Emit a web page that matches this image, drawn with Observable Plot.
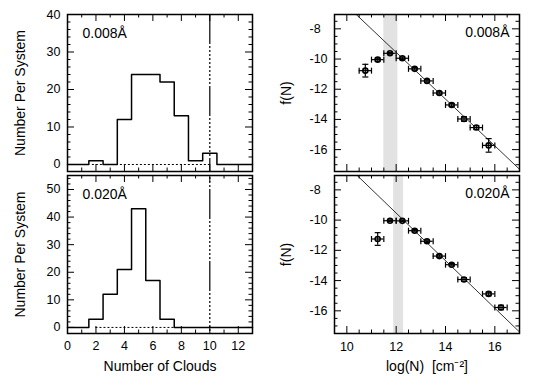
<!DOCTYPE html>
<html><head><meta charset="utf-8">
<script src="https://cdn.jsdelivr.net/npm/d3@7"></script>
<script src="https://cdn.jsdelivr.net/npm/@observablehq/plot@0.6"></script>
<style>
body{margin:0;background:#fff;}
#chart{position:relative;width:534px;height:385px;overflow:hidden;background:#fff;}
#chart svg{position:absolute;left:0;top:0;}
</style></head><body><div id="chart"></div>
<script>
// ---------- data ----------
const histEdges008 = [0, 1.5, 2.5, 3.5, 4.5, 5.5, 6.5, 7.5, 8.5, 9.5, 10.5, 13];
const histCounts008 = [0, 1, 0, 12, 24, 24, 22, 13, 1, 3, 0];
const histEdges020 = [0, 1.5, 2.5, 3.5, 4.5, 5.5, 6.5, 7.5, 13];
const histCounts020 = [0, 3, 12, 21, 43, 17, 3, 0];
const zeroDotted008 = [1.75, 10];
const zeroDotted020 = [2, 7.5];
const cloudCut = [10];

const logN008 = [10.75, 11.25, 11.75, 12.25, 12.75, 13.25, 13.75, 14.25, 14.75, 15.25, 15.75];
const fN008 = [-10.77, -10.04, -9.62, -9.95, -10.65, -11.45, -12.25, -13.04, -13.97, -14.54, -15.72];
const fNerr008 = [0.42, 0.1, 0.06, 0.08, 0.08, 0.08, 0.08, 0.1, 0.15, 0.13, 0.45];
const logN020 = [11.25, 11.75, 12.25, 12.75, 13.25, 13.75, 14.25, 14.75, 15.75, 16.25];
const fN020 = [-11.25, -10.04, -10.05, -10.7, -11.4, -12.38, -12.95, -13.93, -14.88, -15.78];
const fNerr020 = [0.42, 0.05, 0.05, 0.08, 0.08, 0.08, 0.08, 0.12, 0.12, 0.15];
const logNHalfWidth = 0.25;
const band008 = [11.5, 12.07];
const band020 = [11.9, 12.3];
const fitLogN008 = [10.38, 17], fitF008 = [-7.05, -17.3];
const fitLogN020 = [10.42, 17], fitF020 = [-7.05, -17.4];

const labels = {
  histY: "Number Per System", histX: "Number of Clouds",
  fY: "f(N)", fX: "log(N)  [cm\u207B\u00B2]",
  a1: "0.008\u00C5", a2: "0.020\u00C5"
};
const histXTicks = [0, 2, 4, 6, 8, 10, 12], histXMinor = [1, 3, 5, 7, 9, 11];
const histYTicks008 = [0, 10, 20, 30, 40];
const histYTicks020 = [0, 10, 20, 30, 40, 50];
const fXTicks = [10, 12, 14, 16];
const fYTicks = [-16, -14, -12, -10, -8];

// ---------- layout ----------
const W = 534, H = 385;
const FONT = "'Liberation Sans', Arial, Helvetica, sans-serif";
const LX = [67, 252], RX = [334, 519], TY = [14, 171], BY = [175, 333];
const chart = document.getElementById("chart");

const vbar = {draw(ctx, size) { const r = Math.sqrt(size / Math.PI); ctx.moveTo(0, -r); ctx.lineTo(0, r); }};
const hbar = {draw(ctx, size) { const r = Math.sqrt(size / Math.PI); ctx.moveTo(-r, 0); ctx.lineTo(r, 0); }};

function tickSet(xMaj, xMin, yMaj, yMin, fw, fh) {
  const M = 7, m = 3.5, o = {stroke: "black", strokeWidth: 1};
  return [
    Plot.tickX(xMaj, {x: d => d, insetTop: fh - M, ...o}),
    Plot.tickX(xMaj, {x: d => d, insetBottom: fh - M, ...o}),
    Plot.tickX(xMin, {x: d => d, insetTop: fh - m, ...o}),
    Plot.tickX(xMin, {x: d => d, insetBottom: fh - m, ...o}),
    Plot.tickY(yMaj, {y: d => d, insetRight: fw - M, ...o}),
    Plot.tickY(yMaj, {y: d => d, insetLeft: fw - M, ...o}),
    Plot.tickY(yMin, {y: d => d, insetRight: fw - m, ...o}),
    Plot.tickY(yMin, {y: d => d, insetLeft: fw - m, ...o})
  ];
}

function panel(xr, yr, xDomain, yDomain, marks) {
  const svg = Plot.plot({
    width: W, height: H,
    marginLeft: xr[0], marginRight: W - xr[1], marginTop: yr[0], marginBottom: H - yr[1],
    x: {domain: xDomain, axis: null},
    y: {domain: yDomain, axis: null},
    style: {background: "transparent", fontFamily: FONT, fontSize: "12.5px", color: "black", overflow: "visible"},
    marks
  });
  chart.appendChild(svg);
}

function histPanel(yr, edges, counts, yDomain, yTicks, dotted, annot, showX, dashOffset) {
  const steps = edges.map((e, i) => ({x: e, y: counts[Math.min(i, counts.length - 1)]}));
  const yMin = d3.range(2, yDomain[1], 2).filter(v => v % 10 !== 0);
  const fw = LX[1] - LX[0], fh = yr[1] - yr[0];
  const marks = [
    Plot.ruleY([0], {x1: dotted[0], x2: dotted[1], stroke: "black", strokeWidth: 1, strokeDasharray: "2,2"}),
    Plot.line(steps, {x: "x", y: "y", curve: "step-after", stroke: "black", strokeWidth: 1.5}),
    Plot.ruleX(cloudCut, {stroke: "black", strokeWidth: 1.2,
      strokeDasharray: "30,2,2,2,2,2,2,2,2,2,2,2,2,2,2,2,2,2,2,2,2,2", strokeDashoffset: dashOffset}),
    ...tickSet(histXTicks, histXMinor, yTicks, yMin, fw, fh),
    Plot.frame({stroke: "black", strokeWidth: 1.5}),
    Plot.text(yTicks, {y: d => d, text: d => String(d), frameAnchor: "left", textAnchor: "end", dx: -7, lineAnchor: "middle"}),
    Plot.text([labels.histY], {text: d => d, frameAnchor: "left", textAnchor: "middle", dx: -47, rotate: -90, fontSize: 14, lineAnchor: "middle"}),
    Plot.text([annot], {text: d => d, frameAnchor: "top-left", textAnchor: "start", dx: 15, dy: 19, fontSize: 14, lineAnchor: "middle"})
  ];
  if (showX) {
    marks.push(Plot.text(histXTicks, {x: d => d, text: d => String(d), frameAnchor: "bottom", dy: 12, lineAnchor: "middle"}));
    marks.push(Plot.text([labels.histX], {text: d => d, frameAnchor: "bottom", textAnchor: "middle", dy: 33, fontSize: 14, lineAnchor: "middle"}));
  }
  panel(LX, yr, [0, 13], yDomain, marks);
}

function fPanel(yr, xs, fs, es, band, fitX, fitY, yDomain, annot, annotDy, showX) {
  const pts = xs.map((x, i) => ({x, f: fs[i], e: es[i]}));
  const fit = fitX.map((x, i) => ({x, y: fitY[i]}));
  const fw = RX[1] - RX[0], fh = yr[1] - yr[0];
  const xMin = d3.range(10.5, 17, 0.5).filter(v => v % 2 !== 0);
  const yMin = d3.range(-17, -7, 0.5).filter(v => v % 2 !== 0);
  const marks = [
    Plot.rect([band], {x1: d => d[0], x2: d => d[1], y1: yDomain[0], y2: yDomain[1], fill: "#e2e2e2"}),
    Plot.line(fit, {x: "x", y: "y", stroke: "black", strokeWidth: 0.8, clip: true}),
    Plot.dot(pts, {x: "x", y: "f", r: 2.5, fill: "white", stroke: "black", strokeWidth: 1.6}),
    Plot.ruleY(pts, {y: "f", x1: d => d.x - logNHalfWidth, x2: d => d.x + logNHalfWidth, stroke: "black", strokeWidth: 1.2}),
    Plot.ruleX(pts, {x: "x", y1: d => d.f - d.e, y2: d => d.f + d.e, stroke: "black", strokeWidth: 1.2}),
    Plot.dot(pts, {x: d => d.x - logNHalfWidth, y: "f", symbol: vbar, r: 3, fill: "none", stroke: "black", strokeWidth: 1.2}),
    Plot.dot(pts, {x: d => d.x + logNHalfWidth, y: "f", symbol: vbar, r: 3, fill: "none", stroke: "black", strokeWidth: 1.2}),
    Plot.dot(pts, {x: "x", y: d => d.f - d.e, symbol: hbar, r: 3, fill: "none", stroke: "black", strokeWidth: 1.2}),
    Plot.dot(pts, {x: "x", y: d => d.f + d.e, symbol: hbar, r: 3, fill: "none", stroke: "black", strokeWidth: 1.2}),
    ...tickSet(fXTicks, xMin, fYTicks, yMin, fw, fh),
    Plot.frame({stroke: "black", strokeWidth: 1.5}),
    Plot.text(fYTicks, {y: d => d, text: d => String(d), frameAnchor: "left", textAnchor: "start", dx: -25, lineAnchor: "middle"}),
    Plot.text([labels.fY], {text: d => d, frameAnchor: "left", textAnchor: "middle", dx: -48, rotate: -90, fontSize: 14, lineAnchor: "middle"}),
    Plot.text([annot], {text: d => d, frameAnchor: "top-right", textAnchor: "end", dx: -10, dy: annotDy, fontSize: 14, lineAnchor: "middle"})
  ];
  if (showX) {
    marks.push(Plot.text(fXTicks, {x: d => d, text: d => String(d), frameAnchor: "bottom", dy: 13, lineAnchor: "middle"}));
    marks.push(Plot.text([labels.fX], {text: d => d, frameAnchor: "bottom", textAnchor: "middle", dy: 33, fontSize: 14, lineAnchor: "middle"}));
  }
  panel(RX, yr, [9.5, 17], yDomain, marks);
}

histPanel(TY, histEdges008, histCounts008, [-1.87, 40], histYTicks008, zeroDotted008, labels.a1, false, 0);
histPanel(BY, histEdges020, histCounts020, [-2.2, 55.07], histYTicks020, zeroDotted020, labels.a2, true, 58);
fPanel(TY, logN008, fN008, fNerr008, band008, fitLogN008, fitF008, [-17.45, -7.05], labels.a1, 18, false);
fPanel(BY, logN020, fN020, fNerr020, band020, fitLogN020, fitF020, [-17.5, -7.05], labels.a2, 18, true);
</script></body></html>
